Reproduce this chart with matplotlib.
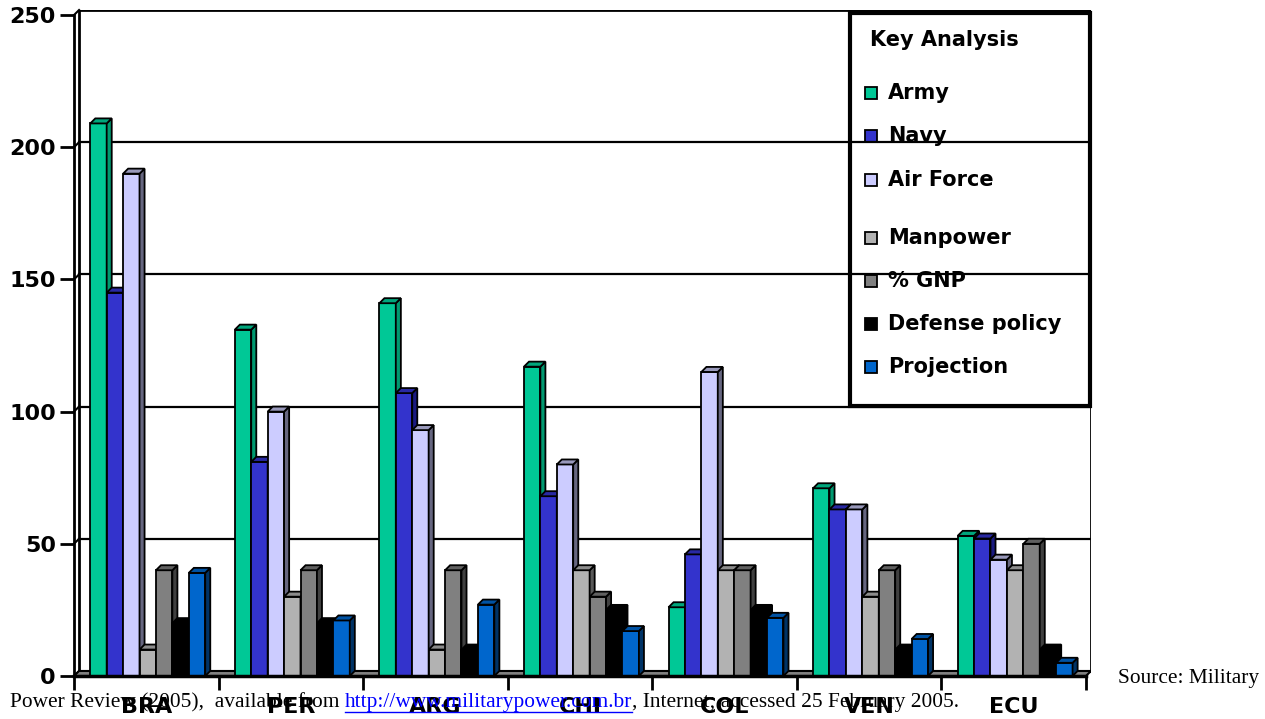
import matplotlib
matplotlib.use('Agg')
import matplotlib.pyplot as plt
from matplotlib.patches import Polygon, Rectangle
from matplotlib.lines import Line2D
import numpy as np

# data
countries = ['BRA', 'PER', 'ARG', 'CHI', 'COL', 'VEN', 'ECU']
series = ['Army', 'Navy', 'Air Force', 'Manpower', '% GNP', 'Defense policy', 'Projection']
army = [209, 131, 141, 117, 26, 71, 53]
navy = [145, 81, 107, 68, 46, 63, 52]
air_force = [190, 100, 93, 80, 115, 63, 44]
manpower = [10, 30, 10, 40, 40, 30, 40]
gnp = [40, 40, 40, 30, 40, 40, 50]
defense = [20, 20, 10, 25, 25, 10, 10]
projection = [39, 21, 27, 17, 22, 14, 5]
yticks = [0, 50, 100, 150, 200, 250]

values = [army, navy, air_force, manpower, gnp, defense, projection]
front = ['#00C896', '#3333CC', '#CCCCFF', '#B2B2B2', '#808080', '#000000', '#0066CC']
side = ['#009970', '#1A1A80', '#666680', '#595959', '#404040', '#000000', '#003366']
top = ['#00A67C', '#2929A3', '#9999BB', '#8C8C8C', '#606060', '#000000', '#0052A3']

W, H = 1265, 719
fig = plt.figure(figsize=(W / 100, H / 100), dpi=100)
ax = fig.add_axes([74 / W, 43 / H, 1017 / W, 666 / H])

dx, dy = 0.035, 1.9   # fake 3d depth
ax.set_xlim(-0.5, 6.5 + dx)
ax.set_ylim(0, 250 + dy)
ax.patch.set_visible(False)
for s in ['top', 'right', 'bottom']:
    ax.spines[s].set_visible(False)
ax.spines['left'].set_bounds(0, 250)
ax.spines['left'].set_linewidth(2)

# back wall, floor, grid
ax.add_patch(Rectangle((-0.5 + dx, dy), 7, 250, facecolor='white', edgecolor='black', lw=2, zorder=0.5))
ax.add_patch(Polygon([(-0.5, 0), (-0.5 + dx, dy), (6.5 + dx, dy), (6.5, 0)], closed=True,
                     facecolor='#808080', edgecolor='black', lw=1.5, zorder=5))
for v in yticks[1:-1]:
    ax.plot([-0.5 + dx, 6.5 + dx], [v + dy, v + dy], color='black', lw=1.6, zorder=3)
for v in yticks:
    ax.plot([-0.5, -0.5 + dx], [v, v + dy], color='black', lw=1.5, zorder=3, clip_on=False)
ax.plot([-0.5, 6.5], [0, 0], color='black', lw=2.5, zorder=30, clip_on=False)

# bars with side and top faces
x = np.arange(len(countries))
w = 0.1136
for i, vals in enumerate(values):
    bars = ax.bar(x - 3.5 * w + i * w + 0.01, vals, w, align='edge', color=front[i],
                  edgecolor='black', lw=1.3, zorder=10 + 3 * i)
    for b in bars:
        bx, bw, bh = b.get_x(), b.get_width(), b.get_height()
        ax.add_patch(Polygon([(bx + bw, 0), (bx + bw + dx, dy), (bx + bw + dx, bh + dy), (bx + bw, bh)],
                             closed=True, facecolor=side[i], edgecolor='black', lw=1.3, zorder=11 + 3 * i))
        ax.add_patch(Polygon([(bx, bh), (bx + dx, bh + dy), (bx + bw + dx, bh + dy), (bx + bw, bh)],
                             closed=True, facecolor=top[i], edgecolor='black', lw=1.3, zorder=12 + 3 * i))

# axes ticks
ax.set_yticks(yticks)
ax.set_yticklabels([str(v) for v in yticks], fontsize=16, fontweight='bold')
ax.tick_params(axis='y', length=10, width=2, pad=3)
ax.set_xticks(np.arange(-0.5, 7, 1))
ax.set_xticklabels([])
ax.tick_params(axis='x', length=10, width=2)
ax.set_xticks(x, minor=True)
ax.set_xticklabels(countries, minor=True, fontsize=16, fontweight='bold')
ax.tick_params(axis='x', which='minor', length=0, pad=22)
for lab in ax.get_xticklabels(minor=True):
    lab.set_verticalalignment('center')
    lab.set_y(-0.0)

# legend box
tf = fig.transFigure
ax.add_patch(Rectangle((850 / W, 1 - 406 / H), 240 / W, 393 / H, transform=tf, facecolor='white',
                       edgecolor='black', lw=3, zorder=1.5, clip_on=False))
ax.text(870 / W, 1 - 40 / H, 'Key Analysis', transform=tf, fontsize=15, fontweight='bold',
        va='center', zorder=2.5)
ypos = [93, 136, 180, 238, 281, 324, 367]
for i, name in enumerate(series):
    ax.add_patch(Rectangle((865 / W, 1 - (ypos[i] + 6) / H), 12 / W, 12 / H, transform=tf,
                           facecolor=front[i], edgecolor='black', lw=1.3, zorder=2, clip_on=False))
    ax.text(888 / W, 1 - ypos[i] / H, name, transform=tf, fontsize=15, fontweight='bold',
            va='center', zorder=2.5)

# source note
serif = 'Liberation Serif'
fs = 15.4
fig.text(1118 / W, 1 - 678 / H, 'Source: Military', family=serif, fontsize=fs, va='center')
r = fig.canvas.get_renderer()
y2 = 1 - 703 / H
t1 = fig.text(10 / W, y2, 'Power Review (2005),  available from ', family=serif, fontsize=fs, va='center')
x1 = t1.get_window_extent(r).x1
t2 = fig.text(x1 / W, y2, 'http://www.militarypower.com.br', family=serif, fontsize=fs,
              va='center', color='#0000FF')
bb = t2.get_window_extent(r)
fig.add_artist(Line2D([bb.x0 / W, bb.x1 / W], [(bb.y0 + 1) / H, (bb.y0 + 1) / H], color='#0000FF', lw=1))
fig.text(bb.x1 / W, y2, ', Internet; accessed 25 February 2005.', family=serif, fontsize=fs, va='center')

fig.savefig('out.png', dpi=100)
